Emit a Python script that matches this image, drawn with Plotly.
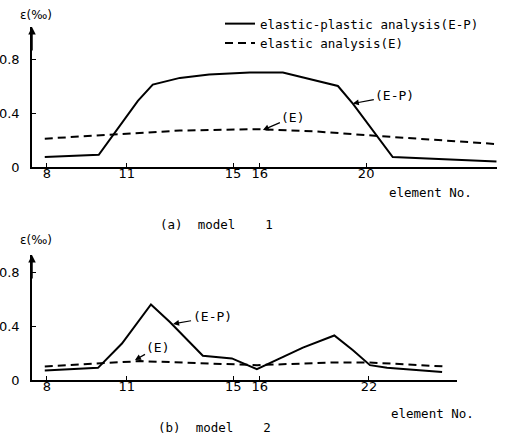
import plotly.graph_objects as go

# ---------------- data ----------------
# model 1 (x = element number)
m1_ep_x = [7.92, 9.95, 11.42, 11.98, 13.0, 14.1, 15.63, 16.87, 18.94, 19.5, 21.0, 24.9]
m1_ep_y = [0.074, 0.09, 0.49, 0.61, 0.66, 0.685, 0.70, 0.70, 0.60, 0.47, 0.074, 0.04]
m1_e_x = [7.92, 10.0, 13.0, 15.9, 18.0, 20.44, 22.5, 24.9]
m1_e_y = [0.21, 0.235, 0.27, 0.28, 0.265, 0.23, 0.20, 0.17]
m1_tickvals = [8, 11, 15, 16, 20]
m1_ticktext = ["8", "11", "15", "16", "20"]

# model 2 (x = location along member, labelled by element number)
m2_ep_x = [7.92, 9.92, 10.82, 11.91, 12.62, 13.86, 14.95, 15.89, 17.62, 18.8, 19.5, 20.14, 20.78, 22.85]
m2_ep_y = [0.07, 0.09, 0.27, 0.56, 0.43, 0.18, 0.16, 0.08, 0.24, 0.33, 0.22, 0.11, 0.09, 0.06]
m2_e_x = [7.92, 11.5, 15.9, 18.8, 20.1, 22.96]
m2_e_y = [0.10, 0.14, 0.11, 0.13, 0.13, 0.10]
m2_tickvals = [8, 11, 15, 16, 20.1]
m2_ticktext = ["8", "11", "15", "16", "22"]

y_tickvals = [0, 0.4, 0.8]
y_ticktext = ["0", "0.4", "0.8"]

names = ["elastic-plastic analysis(E-P)", "elastic analysis(E)"]

FONT = "DejaVu Sans"
MONO = "DejaVu Sans Mono"
W, H = 507, 435


def px(xp):
    return xp / W


def py(yp):
    return 1 - yp / H


fig = go.Figure()
fig.add_trace(go.Scatter(x=m1_ep_x, y=m1_ep_y, mode="lines", name=names[0],
                         line=dict(color="black", width=2), xaxis="x", yaxis="y"))
fig.add_trace(go.Scatter(x=m1_e_x, y=m1_e_y, mode="lines", name=names[1],
                         line=dict(color="black", width=2, dash="8px,5px"), xaxis="x", yaxis="y"))
fig.add_trace(go.Scatter(x=m2_ep_x, y=m2_ep_y, mode="lines", showlegend=False,
                         line=dict(color="black", width=2), xaxis="x2", yaxis="y2"))
fig.add_trace(go.Scatter(x=m2_e_x, y=m2_e_y, mode="lines", showlegend=False,
                         line=dict(color="black", width=2, dash="8px,5px"), xaxis="x2", yaxis="y2"))

axis_common = dict(showline=True, linecolor="black", linewidth=1.5, showgrid=False,
                   zeroline=False, ticks="inside", ticklen=4, tickcolor="black",
                   automargin=False,
                   tickfont=dict(family=FONT, size=13, color="black"))

fig.update_layout(
    width=W, height=H,
    margin=dict(l=0, r=0, t=0, b=0),
    paper_bgcolor="white", plot_bgcolor="white",
    font=dict(family=MONO, size=12, color="black"),
    xaxis=dict(domain=[px(32), px(497)], range=[7.44, 24.92], anchor="y",
               tickvals=m1_tickvals, ticktext=m1_ticktext, ticklabelstandoff=-6, **axis_common),
    yaxis=dict(domain=[py(167), py(27)], range=[0, 1.037], anchor="x",
               tickvals=y_tickvals, ticktext=y_ticktext, ticklabelstandoff=8, **axis_common),
    xaxis2=dict(domain=[px(32), px(457)], range=[7.44, 23.41], anchor="y2",
                tickvals=m2_tickvals, ticktext=m2_ticktext, ticklabelstandoff=-6, **axis_common),
    yaxis2=dict(domain=[py(380), py(255)], range=[0, 0.926], anchor="x2",
                tickvals=y_tickvals, ticktext=y_ticktext, ticklabelstandoff=8, **axis_common),
    legend=dict(x=px(220), y=py(9), xanchor="left", yanchor="top",
                bgcolor="rgba(0,0,0,0)", font=dict(family=MONO, size=12.5),
                tracegroupgap=0),
    showlegend=True,
)

ann = []
# axis arrows on y axes
ann.append(dict(x=7.44, y=1.037, xref="x", yref="y", text="", showarrow=True,
                arrowhead=2, arrowsize=1, arrowwidth=1.5, arrowcolor="black", ax=0, ay=25))
ann.append(dict(x=7.44, y=0.926, xref="x2", yref="y2", text="", showarrow=True,
                arrowhead=2, arrowsize=1, arrowwidth=1.5, arrowcolor="black", ax=0, ay=25))
# y axis titles
ann.append(dict(x=px(36), y=py(15), xref="paper", yref="paper", text="ε(‰)",
                xanchor="center", yanchor="middle", showarrow=False,
                font=dict(family=FONT, size=12)))
ann.append(dict(x=px(36), y=py(240), xref="paper", yref="paper", text="ε(‰)",
                xanchor="center", yanchor="middle", showarrow=False,
                font=dict(family=FONT, size=12)))
# x axis titles
ann.append(dict(x=px(430), y=py(192), xref="paper", yref="paper", text="element No.",
                xanchor="center", yanchor="middle", showarrow=False, font=dict(size=12.5)))
ann.append(dict(x=px(432), y=py(413), xref="paper", yref="paper", text="element No.",
                xanchor="center", yanchor="middle", showarrow=False, font=dict(size=12.5)))
# captions
ann.append(dict(x=px(216), y=py(224), xref="paper", yref="paper",
                text="(a)\u00a0\u00a0model\u00a0\u00a0\u00a0\u00a01", showarrow=False,
                xanchor="center", yanchor="middle", font=dict(size=12.5)))
ann.append(dict(x=px(214), y=py(427), xref="paper", yref="paper",
                text="(b)\u00a0\u00a0model\u00a0\u00a0\u00a0\u00a02", showarrow=False,
                xanchor="center", yanchor="middle", font=dict(size=12.5)))
# callouts
arrow_style = dict(showarrow=True, arrowhead=2, arrowsize=1, arrowwidth=1.2,
                   font=dict(family=MONO, size=13), arrowcolor="black")
ann.append(dict(x=19.5, y=0.47, xref="x", yref="y", text="(E-P)", ax=42, ay=-8, **arrow_style))
ann.append(dict(x=16.12, y=0.274, xref="x", yref="y", text="(E)", ax=30, ay=-13, **arrow_style))
ann.append(dict(x=12.74, y=0.415, xref="x2", yref="y2", text="(E-P)", ax=39, ay=-7, **arrow_style))
ann.append(dict(x=11.31, y=0.148, xref="x2", yref="y2", text="(E)", ax=23, ay=-13, **arrow_style))

fig.update_layout(annotations=ann)

fig.write_html("out.html", config={"displayModeBar": False},
               post_script="document.body.style.margin='0';")
